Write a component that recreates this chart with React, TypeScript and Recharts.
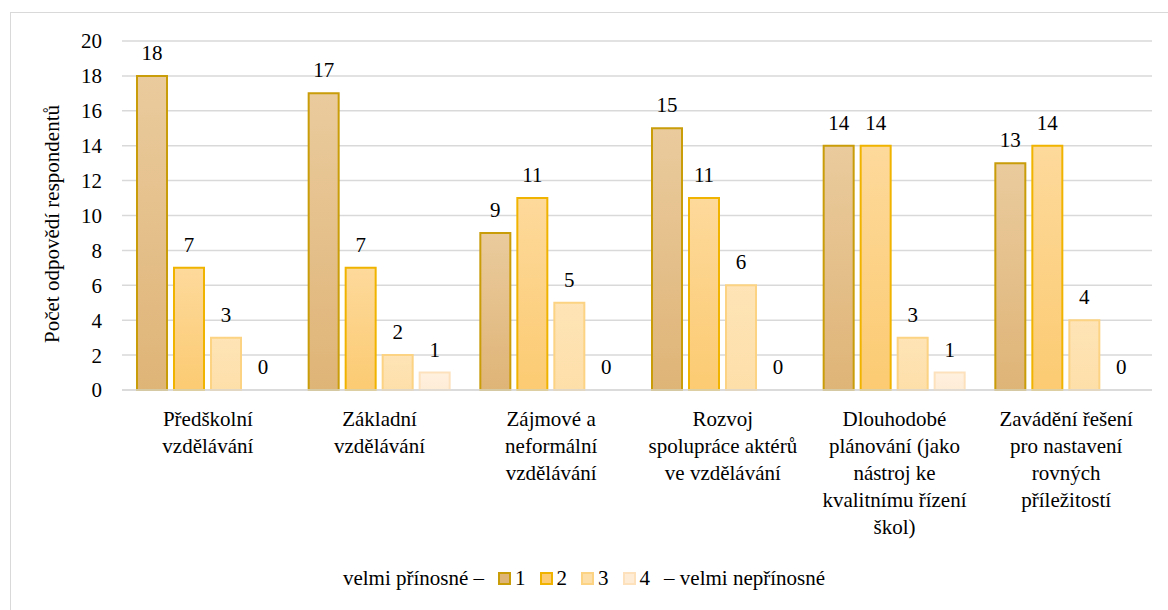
import React from 'react';
import { BarChart, Bar, XAxis, YAxis, CartesianGrid, LabelList, Legend, Rectangle } from 'recharts';

const FONT = 'serif';

// category labels, one array of lines per category
const categoryLines = [
  ['Předškolní', 'vzdělávání'],
  ['Základní', 'vzdělávání'],
  ['Zájmové a', 'neformální', 'vzdělávání'],
  ['Rozvoj', 'spolupráce aktérů', 've vzdělávání'],
  ['Dlouhodobé', 'plánování (jako', 'nástroj ke', 'kvalitnímu řízení', 'škol)'],
  ['Zavádění řešení', 'pro nastavení', 'rovných', 'příležitostí'],
];

// 1 = velmi přínosné ... 4 = velmi nepřínosné
const rating1 = [18, 17, 9, 15, 14, 13];
const rating2 = [7, 7, 11, 11, 14, 14];
const rating3 = [3, 2, 5, 6, 3, 4];
const rating4 = [0, 1, 0, 0, 1, 0];

const yTicks = [0, 2, 4, 6, 8, 10, 12, 14, 16, 18, 20];

const series = [
  { key: 'r1', name: '1', top: '#eacb9d', bottom: '#dfb477', stroke: '#c99c0a' },
  { key: 'r2', name: '2', top: '#fdd99b', bottom: '#fccb72', stroke: '#f0b400' },
  { key: 'r3', name: '3', top: '#fee4b6', bottom: '#fddfa9', stroke: '#fcd383' },
  { key: 'r4', name: '4', top: '#fff0de', bottom: '#feecd6', stroke: '#fde1bd' },
];

const data = categoryLines.map((lines, i) => ({
  name: lines.join(' '),
  r1: rating1[i],
  r2: rating2[i],
  r3: rating3[i],
  r4: rating4[i],
}));

const CategoryTick = (props: any) => {
  const { x, y, index } = props;
  const lines = categoryLines[index] || [];
  return (
    <text x={x} y={y + 28} textAnchor="middle" fontFamily={FONT} fontSize={21} fill="#000">
      {lines.map((l, i) => (
        <tspan key={i} x={x} dy={i === 0 ? 0 : 27}>{l}</tspan>
      ))}
    </text>
  );
};

// value label above each bar, also for zero-height bars
const ValueLabel = (props: any) => {
  const { x, y, width, value } = props;
  if (value == null) return null;
  return (
    <text x={x + width / 2} y={y - 16} textAnchor="middle" fontFamily={FONT} fontSize={21} fill="#000">
      {value}
    </text>
  );
};

// zero values get a tiny height so their label is kept; draw nothing for them
const BarShape = (props: any) => {
  if (!props.value) return null;
  return <Rectangle {...props} />;
};

const LegendContent = (props: any) => {
  const items = props.payload || [];
  return (
    <div style={{ display: 'flex', justifyContent: 'center', alignItems: 'center', fontFamily: FONT, fontSize: 21, color: '#000' }}>
      <span style={{ marginRight: 14 }}>velmi přínosné –</span>
      {items.map((it: any) => {
        const s = series.find(d => d.key === it.dataKey) || series[0];
        return (
          <span key={it.value} style={{ display: 'flex', alignItems: 'center', marginRight: 14 }}>
            <span style={{ width: 9, height: 9, background: s.bottom, border: `2px solid ${s.stroke}`, marginRight: 4 }} />
            <span>{it.value}</span>
          </span>
        );
      })}
      <span>– velmi nepřínosné</span>
    </div>
  );
};

const App: React.FC = () => {
  return (
    <div style={{ position: 'absolute', left: 0, top: 0, width: 1168, height: 610, overflow: 'hidden', background: '#fff', fontFamily: FONT }}>
      <div style={{ position: 'absolute', left: 10, top: 12, width: 1300, height: 700, borderLeft: '1.5px solid #d9d9d9', borderTop: '1.5px solid #d9d9d9' }} />
      <BarChart
        width={1168}
        height={610}
        data={data}
        margin={{ top: 41, right: 16, bottom: 190, left: 50 }}
        barCategoryGap={15}
        barGap={7}
        style={{ position: 'absolute', left: 0, top: 0 }}
      >
        <defs>
          {series.map(s => (
            <linearGradient key={s.key} id={`grad-${s.key}`} x1="0" y1="0" x2="0" y2="1">
              <stop offset="0%" stopColor={s.top} />
              <stop offset="100%" stopColor={s.bottom} />
            </linearGradient>
          ))}
        </defs>
        <CartesianGrid vertical={false} stroke="#d9d9d9" strokeWidth={1.5} />
        <XAxis
          dataKey="name"
          height={30}
          interval={0}
          tickLine={false}
          axisLine={{ stroke: '#d9d9d9', strokeWidth: 1.5 }}
          tick={<CategoryTick />}
        />
        <YAxis
          width={72}
          domain={[0, 20]}
          ticks={yTicks}
          interval={0}
          axisLine={false}
          tickLine={false}
          tickMargin={14}
          tick={{ fontSize: 21, fill: '#000', fontFamily: FONT }}
          label={{
            content: () => (
              <text x={59} y={224} transform="rotate(-90 59 224)" textAnchor="middle" fontFamily={FONT} fontSize={21} fill="#000">
                Počet odpovědí respondentů
              </text>
            ),
          }}
        />
        {series.map(s => (
          <Bar
            key={s.key}
            dataKey={s.key}
            name={s.name}
            fill={`url(#grad-${s.key})`}
            stroke={s.stroke}
            strokeWidth={2}
            minPointSize={(v: number) => (v === 0 ? 0.01 : 0)}
            shape={<BarShape />}
            isAnimationActive={false}
          >
            <LabelList dataKey={s.key} content={<ValueLabel />} />
          </Bar>
        ))}
        <Legend
          layout="horizontal"
          verticalAlign="middle"
          align="center"
          content={<LegendContent />}
          wrapperStyle={{ top: 566, left: 0, width: 1168 }}
        />
      </BarChart>
    </div>
  );
};

export default App;
